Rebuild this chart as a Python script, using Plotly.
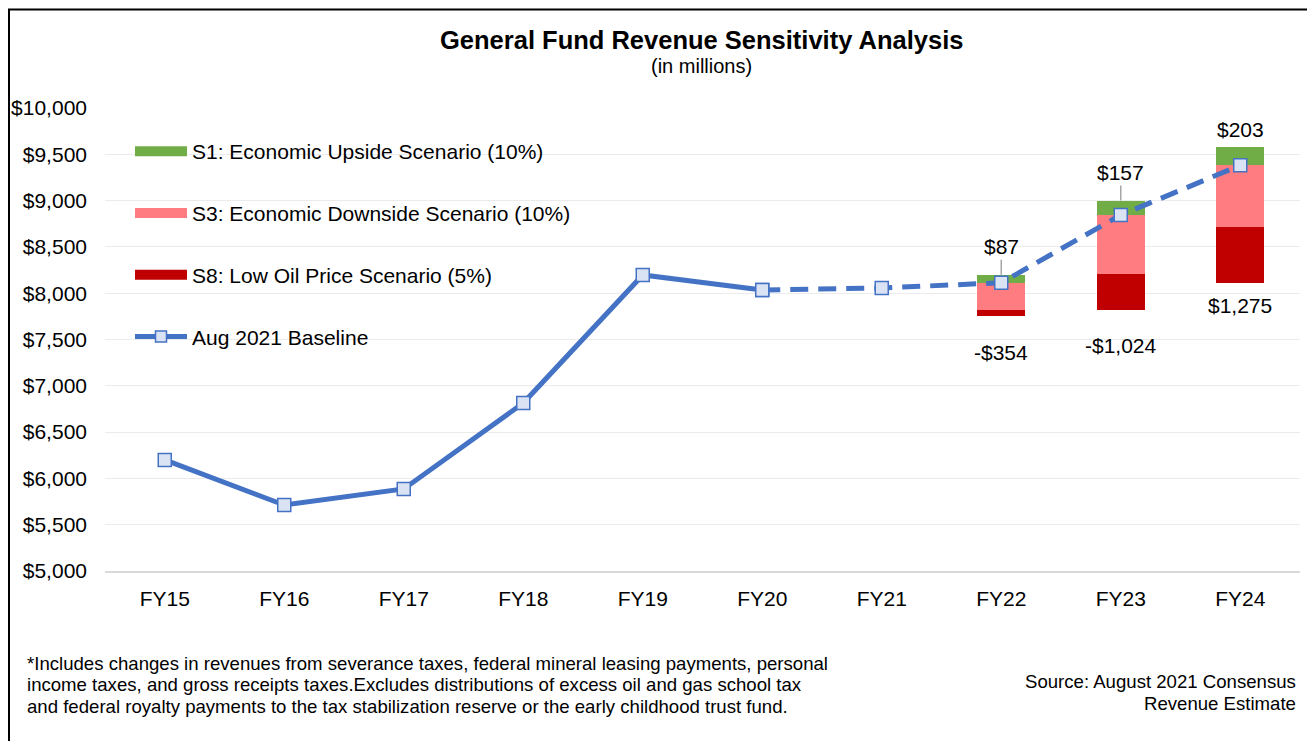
import plotly.graph_objects as go

# ---------------- data ----------------
years = ["FY15", "FY16", "FY17", "FY18", "FY19", "FY20", "FY21", "FY22", "FY23", "FY24"]
baseline = [6200, 5713, 5886, 6814, 8197, 8035, 8056, 8113, 8844, 9381]

scen_years = ["FY22", "FY23", "FY24"]
s1_upside = [87, 157, 203]          # S1: Economic Upside Scenario
s3_downside = [294, 633, 663]       # S3: Economic Downside Scenario (segment)
s8_downside = [60, 391, 612]        # S8: Low Oil Price Scenario (additional segment)
up_labels = ["$87", "$157", "$203"]
down_labels = ["-$354", "-$1,024", "$1,275"]

y_ticks = [5000, 5500, 6000, 6500, 7000, 7500, 8000, 8500, 9000, 9500, 10000]

footnote_lines = [
    "*Includes changes in revenues from severance taxes, federal mineral leasing payments, personal",
    "income taxes, and gross receipts taxes.Excludes distributions of excess oil and gas school tax",
    "and federal royalty payments to the tax stabilization reserve or the early childhood trust fund.",
]
source_lines = ["Source: August 2021 Consensus", "Revenue Estimate"]

# ---------------- styles ----------------
FONT = "Liberation Sans, Arial, sans-serif"
GREEN = "#70AD47"
PINK = "#FF7C80"
DARKRED = "#C00000"
BLUE = "#4472C4"
MFILL = "#DAE3F3"

# page geometry (page pixels); the page body has an 8px margin
OFF = 8
PAGE_W, PAGE_H = 1315, 741
PLOT_L, PLOT_R, PLOT_T, PLOT_B = 105, 1300, 108, 571


def px_x(p):
    return (p - PLOT_L) / (PLOT_R - PLOT_L)


def px_y(p):
    return (PLOT_B - p) / (PLOT_B - PLOT_T)


base_map = dict(zip(years, baseline))
scen_base = [base_map[y] for y in scen_years]

fig = go.Figure()

# stacked scenario bars (drawn from the baseline)
fig.add_trace(go.Bar(
    x=scen_years, y=s1_upside, base=scen_base, marker_color=GREEN,
    marker_line_width=0, width=0.4, showlegend=False, hoverinfo="skip"))
fig.add_trace(go.Bar(
    x=scen_years, y=s3_downside,
    base=[b - d for b, d in zip(scen_base, s3_downside)],
    marker_color=PINK, marker_line_width=0, width=0.4, showlegend=False, hoverinfo="skip"))
fig.add_trace(go.Bar(
    x=scen_years, y=s8_downside,
    base=[b - d3 - d8 for b, d3, d8 in zip(scen_base, s3_downside, s8_downside)],
    marker_color=DARKRED, marker_line_width=0, width=0.4, showlegend=False, hoverinfo="skip"))

# baseline line: solid actuals, dashed forecast
split = years.index("FY20") + 1
fig.add_trace(go.Scatter(
    x=years[:split], y=baseline[:split], mode="lines+markers",
    line=dict(color=BLUE, width=5),
    marker=dict(symbol="square", size=13, color=MFILL, line=dict(color=BLUE, width=1.5)),
    showlegend=False, hoverinfo="skip"))
fig.add_trace(go.Scatter(
    x=years[split - 1:], y=baseline[split - 1:], mode="lines+markers",
    line=dict(color=BLUE, width=5, dash="18px,10px"),
    marker=dict(symbol="square", size=13, color=MFILL, line=dict(color=BLUE, width=1.5)),
    showlegend=False, hoverinfo="skip"))

# legend entries
legend_items = [
    ("S1: Economic Upside Scenario (10%)", GREEN, False),
    ("S3: Economic Downside Scenario (10%)", PINK, False),
    ("S8: Low Oil Price Scenario (5%)", DARKRED, False),
    ("Aug 2021 Baseline", BLUE, True),
]
for i, (name, col, mk) in enumerate(legend_items):
    if mk:
        fig.add_trace(go.Scatter(
            x=[None], y=[None], mode="lines+markers", name=name,
            line=dict(color=col, width=5),
            marker=dict(symbol="square", size=11, color=MFILL, line=dict(color=BLUE, width=1.5)),
            legendgroup=f"g{i}"))
    else:
        fig.add_trace(go.Scatter(
            x=[None], y=[None], mode="lines", name=name,
            line=dict(color=col, width=12), legendgroup=f"g{i}"))

# data labels
up_tops = [b + u for b, u in zip(scen_base, s1_upside)]
down_bots = [b - d3 - d8 for b, d3, d8 in zip(scen_base, s3_downside, s8_downside)]
up_offsets = [-28, -28, None]
down_shifts = [-23, -22, -9]
for i, yr in enumerate(scen_years):
    if up_offsets[i] is not None:
        fig.add_annotation(
            x=yr, y=up_tops[i], text=up_labels[i], showarrow=True, arrowhead=0,
            arrowwidth=1.5, arrowcolor="#A6A6A6", ax=0, ay=up_offsets[i],
            font=dict(size=21, color="#000000", family=FONT), standoff=0)
    else:
        fig.add_annotation(
            x=yr, y=up_tops[i], text=up_labels[i], showarrow=False,
            yanchor="bottom", yshift=4,
            font=dict(size=21, color="#000000", family=FONT))
    fig.add_annotation(
        x=yr, y=down_bots[i], text=down_labels[i], showarrow=False,
        yanchor="top", yshift=down_shifts[i],
        font=dict(size=21, color="#000000", family=FONT))

# title & subtitle
fig.add_annotation(
    xref="paper", yref="paper", x=px_x(701), y=px_y(40),
    text="<b>General Fund Revenue Sensitivity Analysis</b>",
    showarrow=False, xanchor="center", yanchor="middle",
    font=dict(size=25.5, color="#000000", family=FONT))
fig.add_annotation(
    xref="paper", yref="paper", x=px_x(701), y=px_y(66), text="(in millions)",
    showarrow=False, xanchor="center", yanchor="middle",
    font=dict(size=20, color="#000000", family=FONT))

# footnotes
for k, line in enumerate(footnote_lines):
    fig.add_annotation(
        xref="paper", yref="paper", x=px_x(25), y=px_y(663 + 21.5 * k), text=line,
        showarrow=False, xanchor="left", yanchor="middle",
        font=dict(size=18.6, color="#000000", family=FONT))
for k, line in enumerate(source_lines):
    fig.add_annotation(
        xref="paper", yref="paper", x=px_x(1298), y=px_y(681 + 22 * k), text=line,
        showarrow=False, xanchor="right", yanchor="middle",
        font=dict(size=18.6, color="#000000", family=FONT))

# outer frame (left and top edges visible)
fig.add_shape(type="line", xref="paper", yref="paper",
              x0=px_x(9), x1=px_x(9), y0=px_y(9), y1=px_y(760),
              line=dict(color="#000000", width=2))
fig.add_shape(type="line", xref="paper", yref="paper",
              x0=px_x(8), x1=px_x(1330), y0=px_y(9.5), y1=px_y(9.5),
              line=dict(color="#000000", width=2))

fig.update_layout(
    width=PAGE_W - OFF, height=PAGE_H - OFF,
    margin=dict(l=PLOT_L - OFF, r=PAGE_W - PLOT_R, t=PLOT_T - OFF, b=PAGE_H - PLOT_B,
                autoexpand=False),
    paper_bgcolor="#FFFFFF", plot_bgcolor="#FFFFFF",
    barmode="overlay", bargap=0,
    font=dict(family=FONT, size=21, color="#000000"),
    legend=dict(
        x=px_x(130), y=px_y(131), xanchor="left", yanchor="top",
        bgcolor="rgba(0,0,0,0)", font=dict(size=21, family=FONT),
        tracegroupgap=31.5, traceorder="grouped", itemwidth=52),
    showlegend=True,
)
fig.update_xaxes(
    type="category", categoryorder="array", categoryarray=years,
    range=[-0.5, len(years) - 0.5],
    showgrid=False, showline=True, linecolor="#D9D9D9", linewidth=2,
    ticks="", tickfont=dict(size=21, family=FONT, color="#000000"),
    ticklabelstandoff=8, fixedrange=True)
fig.update_yaxes(
    range=[5000, 10000], tickvals=y_ticks,
    ticktext=[f"${v:,}" for v in y_ticks],
    showgrid=True, gridcolor="#EBEBEB", gridwidth=1, zeroline=False,
    showline=False, ticks="", tickfont=dict(size=21, family=FONT, color="#000000"),
    ticklabelstandoff=17, fixedrange=True)

fig.write_html("out.html")
